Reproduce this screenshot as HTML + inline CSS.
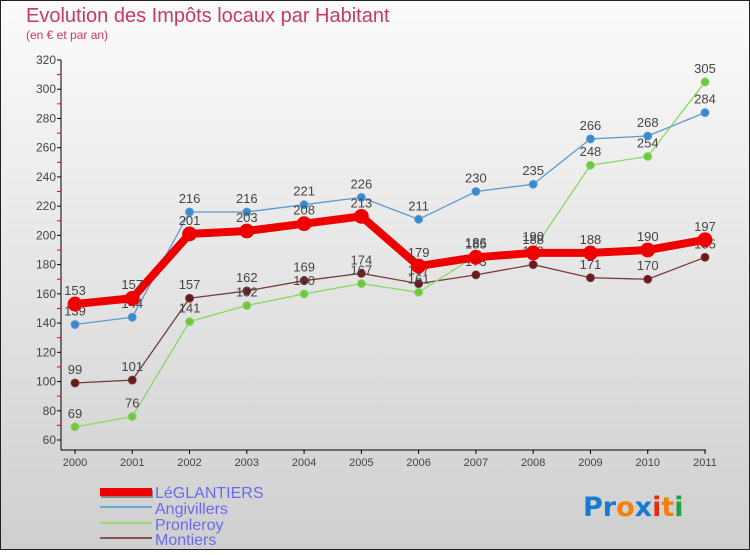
<!DOCTYPE html>
<html><head><meta charset="utf-8"><style>
body{margin:0;width:750px;height:550px;overflow:hidden;font-family:"Liberation Sans",sans-serif}
</style></head><body>
<svg id="chart" width="750" height="550" xmlns="http://www.w3.org/2000/svg" font-family="Liberation Sans, sans-serif">
<defs><linearGradient id="bg" x1="0" y1="0" x2="0" y2="1"><stop offset="0" stop-color="#fbfbfb"/><stop offset="1" stop-color="#cfcfcf"/></linearGradient></defs>
<rect x="0.5" y="0.5" width="749" height="549" fill="url(#bg)" stroke="#222"/>
<text x="26" y="22" font-size="20" fill="#c8386a">Evolution des Impôts locaux par Habitant</text>
<text x="26" y="39" font-size="12" fill="#c8386a">(en € et par an)</text>
<g id="axes"></g><g id="series"></g>
<g>
<rect x="101" y="490" width="52" height="8" fill="#888"/>
<rect x="100" y="488" width="52" height="8" fill="#e00"/>
<text x="155" y="498" font-size="16" fill="#6a6af0">LéGLANTIERS</text>
<rect x="100" y="506" width="52" height="2" fill="#6aa8d8"/>
<text x="155" y="514" font-size="16" fill="#6a6af0">Angivillers</text>
<rect x="100" y="522" width="52" height="2" fill="#9ad870"/>
<text x="155" y="530" font-size="16" fill="#6a6af0">Pronleroy</text>
<rect x="100" y="537" width="52" height="2" fill="#8a5050"/>
<text x="155" y="545" font-size="16" fill="#6a6af0">Montiers</text>
</g>
<text x="583" y="516" font-size="27" font-family="DejaVu Sans" font-weight="bold"><tspan fill="#1a7ad0">Pr</tspan><tspan fill="#f08010">o</tspan><tspan fill="#1a7ad0">x</tspan><tspan fill="#e03010">i</tspan><tspan fill="#f08010">t</tspan><tspan fill="#20a040">i</tspan></text>
</svg>
<script>
const years=["2000","2001","2002","2003","2004","2005","2006","2007","2008","2009","2010","2011"];
const yTicks=[60,80,100,120,140,160,180,200,220,240,260,280,300,320];
const leglantiers=[153,157,201,203,208,213,179,185,188,188,190,197];
const angivillers=[139,144,216,216,221,226,211,230,235,266,268,284];
const pronleroy=[69,76,141,152,160,167,161,186,190,248,254,305];
const montiers=[99,101,157,162,169,174,167,173,180,171,170,185];
const NS="http://www.w3.org/2000/svg";
const X=i=>75+i*(630/11);
const Y=v=>440-(v-60)*(380/260);
function mk(tag,attrs,parent){const e=document.createElementNS(NS,tag);for(const k in attrs)e.setAttribute(k,attrs[k]);parent.appendChild(e);return e;}
const ax=document.getElementById('axes');
let yl=mk('line',{x1:61,y1:Y(320),x2:61,y2:450,stroke:'#000'},ax);


let xl=mk('line',{x1:61,y1:450,x2:706,y2:450,stroke:'#000'},ax);


yTicks.forEach((v,i)=>{
  mk('line',{x1:57,y1:Y(v),x2:61,y2:Y(v),stroke:'#000'},ax);
  if(i<yTicks.length-1) mk('line',{x1:57,y1:Y(v+10),x2:61,y2:Y(v+10),stroke:'#e00'},ax);
  const t=mk('text',{x:56,y:Y(v)+4,'font-size':12,'text-anchor':'end',fill:'#444'},ax);
  t.textContent=v;
  
  
});
years.forEach((y,i)=>{
  mk('line',{x1:X(i),y1:450,x2:X(i),y2:454,stroke:'#000'},ax);
  const t=mk('text',{x:X(i),y:466,'font-size':11,'text-anchor':'middle',fill:'#444'},ax);
  t.textContent=y;
  
  
});
const sg=document.getElementById('series');
function draw(data,name,color,w,r,mcol){
  const g=mk('g',{},sg);
  
  
  const l=mk('polyline',{points:data.map((v,i)=>X(i)+','+Y(v)).join(' '),fill:'none',stroke:color,'stroke-width':w,'stroke-linejoin':'round'},g);
  
  
  data.forEach((v,i)=>{
    const c=mk('circle',{cx:X(i),cy:Y(v),r:r,fill:mcol,stroke:color,'stroke-width':0.8},g);
    
    
    const t=mk('text',{x:X(i),y:Y(v)-9,'font-size':13,'text-anchor':'middle',fill:'#444'},g);
    t.textContent=v;
    
    
  });
}
draw(montiers,'montiers','#7a3a3a',1.3,4,'#6a1a1a');
draw(pronleroy,'pronleroy','#8ad860',1.3,4,'#70c840');
draw(angivillers,'angivillers','#5a9ad0',1.3,4,'#3a8ad0');
draw(leglantiers,'leglantiers','#ee0000',8,7,'#ee0000');
</script>
</body></html>
